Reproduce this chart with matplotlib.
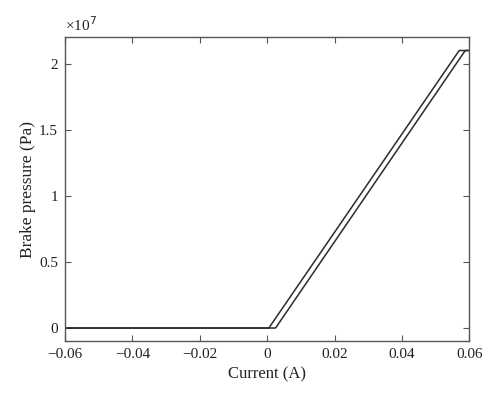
import matplotlib
matplotlib.use("Agg")
import matplotlib.pyplot as plt

# Hysteresis loop: current (A) vs brake pressure (Pa)
up_current = [-0.06, 0.0025, 0.0588, 0.06]
up_pressure = [0.0, 0.0, 2.1e7, 2.1e7]
down_current = [0.06, 0.0570, 0.0005, -0.06]
down_pressure = [2.1e7, 2.1e7, 0.0, 0.0]

xticks = [-0.06, -0.04, -0.02, 0, 0.02, 0.04, 0.06]
xticklabels = ["\u22120.06", "\u22120.04", "\u22120.02", "0", "0.02", "0.04", "0.06"]
yticks = [0, 0.5e7, 1e7, 1.5e7, 2e7]
yticklabels = ["0", "0.5", "1", "1.5", "2"]

plt.rcParams['font.family'] = ['Liberation Serif', 'DejaVu Serif']

fig = plt.figure(figsize=(5, 4.01), dpi=100)
ax = fig.add_axes([0.13, 0.149, 0.8086, 0.758])

line_color = "#2b2b2b"
ax.plot(up_current, up_pressure, color=line_color, lw=1.1)
ax.plot(down_current, down_pressure, color=line_color, lw=1.1)

ax.set_xlim(-0.06, 0.06)
ax.set_ylim(-1e6, 2.2e7)
ax.set_xticks(xticks)
ax.set_xticklabels(xticklabels)
ax.set_yticks(yticks)
ax.set_yticklabels(yticklabels)

spine_color = "#555555"
for s in ax.spines.values():
    s.set_color(spine_color)
    s.set_linewidth(1.0)
ax.tick_params(direction="in", top=True, right=True, length=4, width=0.8,
               color=spine_color, labelsize=11, labelcolor="#222222", pad=5)

ax.set_xlabel("Current (A)", fontsize=12, color="#222222", labelpad=4)
ax.set_ylabel("Brake pressure (Pa)", fontsize=12.5, color="#222222", labelpad=2)
ax.text(0.0, 1.012, "\u00d710$^{7}$", transform=ax.transAxes, fontsize=11,
        color="#222222", ha="left", va="bottom")

fig.savefig("out.png", dpi=100)
